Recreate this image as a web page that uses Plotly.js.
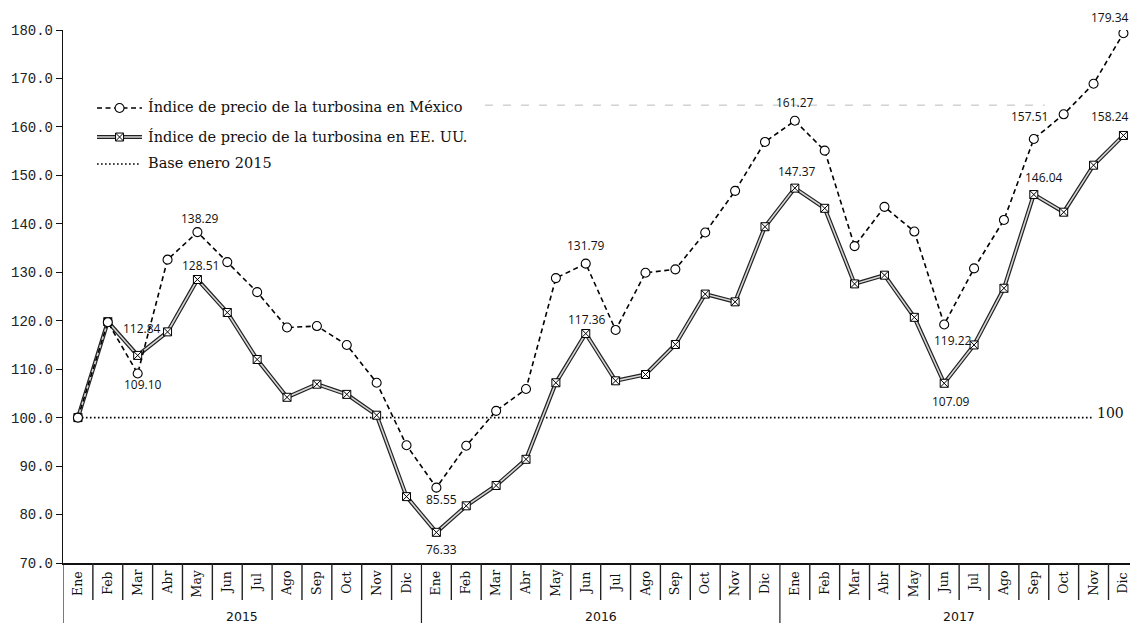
<!DOCTYPE html>
<html>
<head>
<meta charset="utf-8">
<script src="https://cdn.plot.ly/plotly-3.0.1.min.js"></script>
<style>
  html, body { margin: 0; padding: 0; background: #fff; }
  #chart { width: 1130px; height: 623px; }
</style>
</head>
<body>
<div id="chart"></div>
<script>
// ---- data ----
const months = ['Ene','Feb','Mar','Abr','May','Jun','Jul','Ago','Sep','Oct','Nov','Dic'];
const years = ['2015','2016','2017'];
const mexico = [100, 119.7, 109.10, 132.6, 138.29, 132.1, 125.9, 118.6, 118.9, 115.0, 107.2, 94.3,
                85.55, 94.2, 101.4, 105.9, 128.8, 131.79, 118.1, 129.9, 130.6, 138.2, 146.8, 156.9,
                161.27, 155.1, 135.4, 143.5, 138.4, 119.22, 130.8, 140.8, 157.51, 162.6, 168.9, 179.34];
const usa = [100, 119.8, 112.84, 117.7, 128.51, 121.7, 112.0, 104.2, 106.9, 104.8, 100.5, 83.7,
             76.33, 81.8, 86.0, 91.4, 107.2, 117.36, 107.6, 108.9, 115.1, 125.5, 123.9, 139.4,
             147.37, 143.2, 127.6, 129.4, 120.7, 107.09, 115.0, 126.7, 146.04, 142.4, 152.1, 158.24];
const BASE = 100;
const baseLabel = '100';
const legendNames = ['Índice de precio de la turbosina en México',
                     'Índice de precio de la turbosina en EE. UU.',
                     'Base enero 2015'];
// indices of labelled points
const mxLabelIdx = [2, 4, 12, 17, 24, 29, 32, 35];
const usLabelIdx = [2, 4, 12, 17, 24, 29, 32, 35];

// ---- derived ----
const cats = [];
years.forEach(y => months.forEach(m => cats.push({m: m, y: y})));
const xs = cats.map((_, i) => i);

// label pixel offsets (style only)
const mxShift = {2:[5,-11], 4:[3,14], 12:[5,-12], 17:[0,18], 24:[0,18], 29:[9,-15.5], 32:[-4,22], 35:[-13,16]};
const usShift = {2:[4,27], 4:[3,13.5], 12:[5,-17], 17:[1,14], 24:[2,17], 29:[7,-18], 32:[10,17], 35:[-13,19]};

const mxDash = '5px,3.5px';
const traces = [];

// base line
traces.push({
  x: [xs[0], xs[34]], y: [BASE, BASE], mode: 'lines', xaxis: 'x', yaxis: 'y',
  line: {color: '#000', width: 1.6, dash: '1.6px,2.4px'}, hoverinfo: 'skip'
});
// USA double line: outer
traces.push({
  x: xs, y: usa, mode: 'lines', line: {color: '#222', width: 4}, hoverinfo: 'skip'
});
// USA inner + markers
traces.push({
  x: xs, y: usa, mode: 'lines+markers', line: {color: '#d6d6d6', width: 1.6},
  marker: {symbol: 'square-x', size: 8, color: '#fff', line: {color: '#000', width: 1}},
  hoverinfo: 'skip'
});
// Mexico
traces.push({
  x: xs, y: mexico, mode: 'lines+markers', line: {color: '#000', width: 1.6, dash: mxDash},
  marker: {symbol: 'circle', size: 9, color: '#fff', line: {color: '#000', width: 1.1}},
  hoverinfo: 'skip'
});

// ---- manual legend on overlay axes (paper-like 0..1) ----
const lgX0 = 0.0319, lgX1 = 0.0740, lgXm = 0.0530, lgText = 0.0775;
const lgY = [0.8537, 0.7992, 0.7486];
traces.push({x: [lgX0, lgX1], y: [lgY[0], lgY[0]], xaxis: 'x2', yaxis: 'y2', mode: 'lines',
  line: {color: '#000', width: 1.6, dash: mxDash}, hoverinfo: 'skip'});
traces.push({x: [lgXm], y: [lgY[0]], xaxis: 'x2', yaxis: 'y2', mode: 'markers',
  marker: {symbol: 'circle', size: 9, color: '#fff', line: {color: '#000', width: 1.1}}, hoverinfo: 'skip'});
traces.push({x: [lgX0, lgX1], y: [lgY[1], lgY[1]], xaxis: 'x2', yaxis: 'y2', mode: 'lines',
  line: {color: '#222', width: 4}, hoverinfo: 'skip'});
traces.push({x: [lgX0, lgX1], y: [lgY[1], lgY[1]], xaxis: 'x2', yaxis: 'y2', mode: 'lines+markers',
  line: {color: '#d6d6d6', width: 1.6},
  marker: {symbol: 'square-x', size: 8, color: '#fff', line: {color: '#000', width: 1}},
  selectedpoints: [], hoverinfo: 'skip'});
traces.push({x: [lgX0, lgX1 - 0.002], y: [lgY[2], lgY[2]], xaxis: 'x2', yaxis: 'y2', mode: 'lines',
  line: {color: '#000', width: 1.6, dash: '1.6px,2.4px'}, hoverinfo: 'skip'});
// only middle marker for USA legend: override marker with per-point sizes
traces[traces.length - 2].marker.size = [0, 0];
traces.splice(traces.length - 1, 0, {x: [lgXm], y: [lgY[1]], xaxis: 'x2', yaxis: 'y2', mode: 'markers',
  marker: {symbol: 'square-x', size: 8, color: '#fff', line: {color: '#000', width: 1}}, hoverinfo: 'skip'});

// ---- annotations ----
const annotations = [];
const lblFont = {family: 'Open Sans, Liberation Sans, sans-serif', size: 12, color: '#111'};
mxLabelIdx.forEach(i => {
  const s = mxShift[i];
  annotations.push({x: xs[i], y: mexico[i], xref: 'x', yref: 'y', text: mexico[i].toFixed(2),
    showarrow: false, xanchor: 'center', yanchor: 'middle', xshift: s[0], yshift: s[1], font: lblFont});
});
usLabelIdx.forEach(i => {
  const s = usShift[i];
  annotations.push({x: xs[i], y: usa[i], xref: 'x', yref: 'y', text: usa[i].toFixed(2),
    showarrow: false, xanchor: 'center', yanchor: 'middle', xshift: s[0], yshift: s[1], font: lblFont});
});
// base label
annotations.push({x: 0.982, y: BASE, xref: 'paper', yref: 'y', text: baseLabel, showarrow: false,
  xanchor: 'center', yanchor: 'middle', yshift: 4.5,
  font: {family: 'DejaVu Serif, serif', size: 14, color: '#111'}});
// legend texts
legendNames.forEach((t, k) => {
  annotations.push({x: lgText, y: lgY[k], xref: 'paper', yref: 'paper', text: t, showarrow: false,
    xanchor: 'left', yanchor: 'middle', yshift: 1,
    font: {family: 'DejaVu Serif, serif', size: 14.5, color: '#111'}});
});
// month labels
cats.forEach((c, i) => {
  annotations.push({x: xs[i], y: -0.0375, xref: 'x', yref: 'paper', text: c.m, showarrow: false,
    textangle: -90, xanchor: 'center', yanchor: 'middle',
    font: {family: 'DejaVu Serif, serif', size: 12.5, color: '#111'}});
});
// year labels
years.forEach((y, k) => {
  annotations.push({x: k * 12 + 5.5, y: -0.101, xref: 'x', yref: 'paper', text: y, showarrow: false,
    xanchor: 'center', yanchor: 'middle',
    font: {family: 'DejaVu Sans, sans-serif', size: 12.5, color: '#111'}});
});

// ---- shapes: category separators ----
const shapes = [];
for (let k = 0; k < cats.length; k++) {
  const isYear = (k % 12 === 0);
  shapes.push({type: 'line', xref: 'x', yref: 'paper', x0: k - 0.5, x1: k - 0.5,
    y0: 0, y1: isYear ? -0.125 : -0.0694, line: {color: '#222', width: isYear ? 1.2 : 1.4}});
}
// faint scan artifact line
shapes.push({type: 'line', xref: 'paper', yref: 'paper', x0: 0.3955, x1: 0.92, y0: 0.859, y1: 0.859,
  line: {color: '#bbb', width: 1, dash: '8px,10px'}});

const layout = {
  width: 1130, height: 623,
  margin: {l: 63, r: 0, t: 30, b: 60, pad: 0},
  paper_bgcolor: '#fff', plot_bgcolor: '#fff',
  showlegend: false,
  xaxis: {range: [-0.5, 35.22], showticklabels: false, ticks: '', showgrid: false, zeroline: false,
    showline: true, linecolor: '#111', linewidth: 1.5, fixedrange: true},
  yaxis: {range: [70, 180], dtick: 10, tick0: 70, tickformat: '.1f', ticks: 'outside', ticklen: 6,
    tickcolor: '#111', showgrid: false, zeroline: false, showline: true, linecolor: '#111', linewidth: 1.2,
    tickfont: {family: 'Liberation Mono, DejaVu Sans Mono, monospace', size: 14, color: '#222'}, fixedrange: true},
  xaxis2: {overlaying: 'x', range: [0, 1], visible: false, fixedrange: true},
  yaxis2: {overlaying: 'y', range: [0, 1], visible: false, fixedrange: true},
  annotations: annotations,
  shapes: shapes
};

Plotly.newPlot('chart', traces, layout, {staticPlot: true, displayModeBar: false});
</script>
</body>
</html>
